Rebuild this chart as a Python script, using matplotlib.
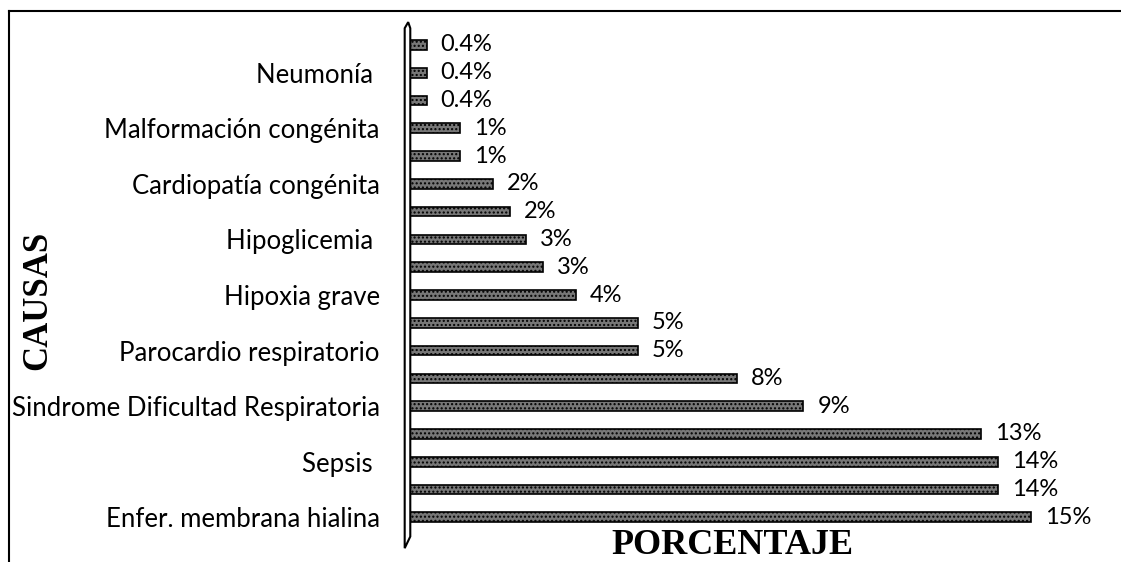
import matplotlib.pyplot as plt
from matplotlib.patches import Polygon
from matplotlib.lines import Line2D

# bottom to top
causas = ["Enfer. membrana hialina", "", "Sepsis ", "", "Sindrome Dificultad Respiratoria", "",
          "Parocardio respiratorio", "", "Hipoxia grave", "", "Hipoglicemia ", "",
          "Cardiopatía congénita", "", "Malformación congénita", "", "Neumonía ", ""]
porcentaje = [15.0, 14.2, 14.2, 13.8, 9.5, 7.9, 5.5, 5.5, 4.0, 3.2, 2.8, 2.4, 2.0, 1.2, 1.2, 0.4, 0.4, 0.4]
etiquetas = ["15%", "14%", "14%", "13%", "9%", "8%", "5%", "5%", "4%", "3%", "3%", "2%", "2%",
             "1%", "1%", "0.4%", "0.4%", "0.4%"]

plt.rcParams['font.family'] = ['Lato', 'DejaVu Sans']

fig = plt.figure(figsize=(11.21, 5.62), dpi=100)
ax = fig.add_axes([0.366, 0.0498, 0.624, 0.9])

y = list(range(len(porcentaje)))
ax.barh(y, porcentaje, height=0.35, color='#777777', edgecolor='black', linewidth=1.2, hatch='....')

for yi, v, t in zip(y, porcentaje, etiquetas):
    ax.annotate(t, (v, yi), xytext=(10, 0), textcoords='offset points',
                va='center', ha='left', fontsize=17)

ax.set_yticks(y)
ax.set_yticklabels(causas, fontsize=18.5)
ax.tick_params(axis='y', length=0, pad=22)
ax.set_xticks([])
ax.set_xlim(0, 16.9)
ax.set_ylim(-0.6, len(porcentaje) - 0.4)
for s in ax.spines.values():
    s.set_visible(False)

# 3D wall on the left
wall = Polygon([(-0.008, 1.0), (-0.003, 1.012), (0.0, 1.0), (0.0, -0.005),
                (-0.008, -0.028)], closed=True, transform=ax.transAxes,
               facecolor='white', edgecolor='black', linewidth=1.5, clip_on=False)
ax.add_patch(wall)

fig.text(0.653, 0.03, "PORCENTAJE", ha='center', va='center', fontsize=26,
         fontweight='bold', family='Liberation Serif')
fig.text(0.034, 0.466, "CAUSAS", ha='center', va='center', fontsize=25,
         fontweight='bold', family='Liberation Serif', rotation=90)

# frame
fig.add_artist(Line2D([9 / 1121, 9 / 1121], [0, 1 - 11 / 562], color='black', linewidth=1.5))
fig.add_artist(Line2D([9 / 1121, 1], [1 - 11 / 562, 1 - 11 / 562], color='black', linewidth=1.5))

plt.savefig("out.png", dpi=100)
